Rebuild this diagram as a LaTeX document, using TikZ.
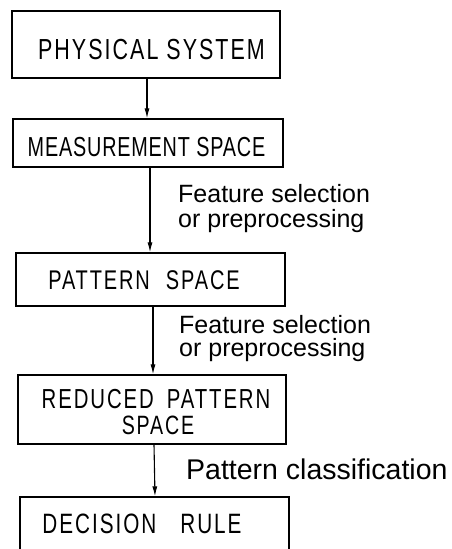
\documentclass[tikz,border=0pt]{standalone}
\usepackage{fontspec}
\setmainfont{Liberation Sans}
\newfontfamily\capsfont[FakeStretch=0.74,LetterSpace=7]{Liberation Sans}
\newfontfamily\capsnarrow[FakeStretch=0.72,LetterSpace=3]{Liberation Sans}
\usetikzlibrary{arrows.meta}
\tikzset{
  blk/.style={draw, line width=1.3pt, inner sep=0pt},
  boxtext/.style={anchor=base, inner sep=0pt},
  flow/.style={line width=1.1pt, -{Latex[length=10pt,width=5pt]}},
  lbl/.style={anchor=base west, inner sep=0pt, align=left}
}
\begin{document}
\begin{tikzpicture}[x=1pt,y=1pt]
\useasboundingbox (0,0) rectangle (452,549);
% boxes
\node[blk, minimum width=268pt, minimum height=67pt] (ps) at (146,504.5) {};
\node[blk, minimum width=270pt, minimum height=48pt] (ms) at (148,406) {};
\node[blk, minimum width=269pt, minimum height=53pt] (pt) at (150.5,269.5) {};
\node[blk, minimum width=268pt, minimum height=69pt] (rp) at (152,139.5) {};
\node[blk, minimum width=269pt, minimum height=56pt] (dr) at (154.5,24) {};
% box texts
\node[boxtext, font=\capsfont\fontsize{29}{29}\selectfont] (tps) at (151.5,489) {PHYSICAL SYSTEM};
\node[boxtext, font=\capsnarrow\fontsize{27.5}{27.5}\selectfont] (tms) at (146.5,392) {MEASUREMENT SPACE};
\node[boxtext, font=\capsfont\fontsize{27}{27}\selectfont] (tpt) at (144,259) {PATTERN\hspace{16pt}SPACE};
\node[boxtext, font=\capsfont\fontsize{27.5}{27.5}\selectfont] (trp1) at (156,140) {REDUCED\hspace{13pt}PATTERN};
\node[boxtext, font=\capsfont\fontsize{26.5}{26.5}\selectfont] (trp2) at (158,114) {SPACE};
\node[boxtext, font=\capsfont\fontsize{28}{28}\selectfont] (tdr) at (142,15) {DECISION\hspace{24pt}RULE};
% connectors
\draw[flow] ([xshift=1pt]ps.south) -- ([xshift=-1pt]ms.north);
\draw[flow] ([xshift=2pt]ms.south) -- ([xshift=-0.5pt]pt.north);
\draw[flow] ([xshift=2.5pt]pt.south) -- ([xshift=1pt]rp.north);
\draw[flow] ([xshift=2pt]rp.south) -- ([xshift=0.5pt]dr.north);
% labels
\node[lbl, font=\fontsize{25}{25}\selectfont] (l1) at (178,321) {Feature selection\\or preprocessing};
\node[lbl, font=\fontsize{25}{23.5}\selectfont] (l2) at (179,192) {Feature selection\\or preprocessing};
\node[lbl, font=\fontsize{28.5}{28.5}\selectfont] (l3) at (186,69) {Pattern classification};
\end{tikzpicture}
\end{document}
